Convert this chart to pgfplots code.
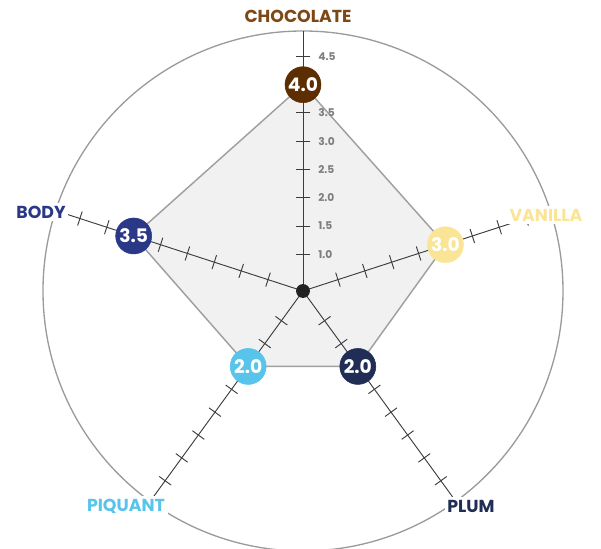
\documentclass[border=0pt]{standalone}
\usepackage{pgfplots}
\pgfplotsset{compat=1.18}
\usepgfplotslibrary{polar}
\usetikzlibrary{calc}
\usepackage{fontspec}
\setmainfont{Poppins}
\definecolor{chocl}{RGB}{125,72,22}
\definecolor{chocm}{RGB}{92,46,2}
\definecolor{vanil}{RGB}{250,229,150}
\definecolor{plum}{RGB}{32,45,85}
\definecolor{piq}{RGB}{88,196,236}
\definecolor{body}{RGB}{42,56,135}
\definecolor{polyfill}{RGB}{241,241,241}
\definecolor{polyline}{RGB}{160,160,160}
\definecolor{circ}{RGB}{155,155,155}
\definecolor{spoke}{RGB}{60,60,60}
\definecolor{ticklab}{RGB}{125,125,125}
\definecolor{dot}{RGB}{34,34,34}
\newcommand\tk[2]{\draw[spoke, line width=0.7pt]
      ($(axis cs:#1,#2)!5.5pt!90:(axis cs:#1,0)$) --
      ($(axis cs:#1,#2)!5.5pt!-90:(axis cs:#1,0)$);}
\newcommand\spk[1]{\draw[spoke, line width=0.7pt] (axis cs:#1,0) -- (axis cs:#1,4.6);}
\begin{document}
\begin{tikzpicture}
\begin{polaraxis}[
  hide axis,
  scale only axis,
  width=390pt, height=390pt,
  ymin=0, ymax=4.6,
  xmin=0, xmax=360,
  y filter/.expression={y-0.35},
  clip=false,
  markstyle/.style={only marks, mark=*, mark size=13.5pt,
    point meta=explicit symbolic, nodes near coords,
    nodes near coords style={anchor=center, text=white,
      font=\bfseries\fontsize{14}{14}\selectfont}},
]
\coordinate (C) at (axis cs:0,0);
\draw[circ, line width=1pt] (axis cs:0,0) circle[radius=195pt];
% polygon of values
\addplot[draw=polyline, fill=polyfill, line width=1.1pt] coordinates {
  (90,4.0) (18,3.0) (-54,2.0) (-126,2.0) (162,3.5)} -- cycle;
% spokes and ticks
\spk{90}\spk{18}\spk{-54}\spk{-126}\spk{162}
\pgfplotsinvokeforeach{0.65,1.15,1.65,2.15,2.65,3.15,3.65,4.15}{
  \tk{90}{#1}\tk{18}{#1}\tk{-54}{#1}\tk{-126}{#1}\tk{162}{#1}
}
\begin{scope}[every node/.style={anchor=west, text=ticklab, xshift=8pt,
    font=\bfseries\fontsize{8}{9}\selectfont}]
\node at (axis cs:90,0.65) {1.0};
\node at (axis cs:90,1.15) {1.5};
\node at (axis cs:90,1.65) {2.0};
\node at (axis cs:90,2.15) {2.5};
\node at (axis cs:90,2.65) {3.0};
\node at (axis cs:90,3.15) {3.5};
\node at (axis cs:90,4.15) {4.5};
\end{scope}
\fill[dot] (axis cs:0,0) circle[radius=5.2pt];
% value markers
\addplot[markstyle, color=chocm] coordinates {(90,4.0) [4.0]};
\addplot[markstyle, color=vanil] coordinates {(18,3.0) [3.0]};
\addplot[markstyle, color=plum] coordinates {(-54,2.0) [2.0]};
\addplot[markstyle, color=piq] coordinates {(-126,2.0) [2.0]};
\addplot[markstyle, color=body] coordinates {(162,3.5) [3.5]};
\end{polaraxis}
\begin{scope}[x=0.75pt, y=-0.75pt, shift={(C)}, shift={(-303,-291)},
  every node/.style={fill=white, inner sep=2pt,
    font=\bfseries\fontsize{13}{15}\selectfont}]
\node[text=chocl] at (298,16) {CHOCOLATE};
\node[text=vanil] at (546,215) {VANILLA};
\node[text=body] at (41,212) {BODY};
\node[text=piq] at (126,506) {PIQUANT};
\node[text=plum] at (471,506) {PLUM};
\pgfresetboundingbox
\path[use as bounding box] (0,0) rectangle (601,549);
\end{scope}
\end{tikzpicture}
\end{document}
